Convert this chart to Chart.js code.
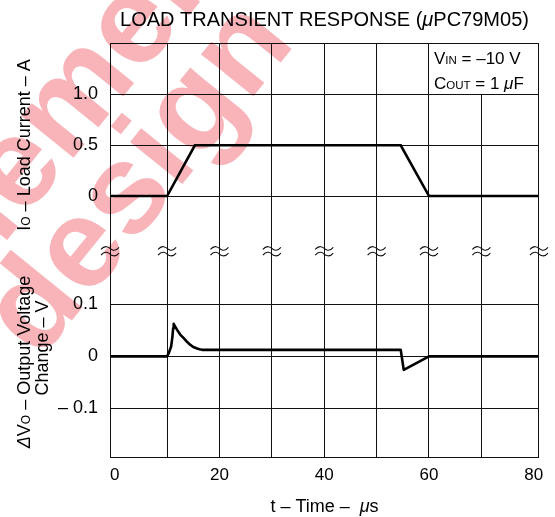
<!DOCTYPE html>
<html>
<head>
<meta charset="utf-8">
<script src="https://cdn.jsdelivr.net/npm/chart.js@4.4.0/dist/chart.umd.min.js"></script>
<style>
  html, body { margin: 0; padding: 0; background: #fff; }
  #wrap { width: 555px; height: 517px; }
</style>
</head>
<body>
<div id="wrap"><canvas id="transientChart"></canvas></div>
<script>
// time axis (µs)
const timeTicks = [0, 10, 20, 30, 40, 50, 60, 70, 80];
const timeLabels = ['0', '', '20', '', '40', '', '60', '', '80'];

// upper panel: load current (A)
const currentTicks = [0, 0.5, 1.0];
const currentLabels = ['0', '0.5', '1.0'];
const currentTime = [-0.9, 10, 15.3, 54.6, 60, 81];
const currentAmps = [0, 0, 0.5, 0.5, 0, 0];

// lower panel: output voltage change (V)
const voltageTicks = [0.1, 0, -0.1];
const voltageLabels = ['0.1', '0', '\u2013 0.1'];
const voltageTime = [-0.9, 10.0, 10.31, 10.77, 11.02, 11.15, 11.26, 11.55, 11.91, 12.5, 13.17, 13.8, 14.45, 15.0, 15.73, 16.2, 16.69, 54.6, 55.18, 60.0, 81];
const voltageVolts = [0, 0, 0.006, 0.019, 0.038, 0.054, 0.0625, 0.057, 0.051, 0.042, 0.035, 0.028, 0.022, 0.018, 0.015, 0.0135, 0.0125, 0.0125, -0.026, 0, 0];

const FONT = "'Liberation Sans', Arial, sans-serif";
const CUR_MIN = -2.579, CUR_MAX = 1.507;
const VOLT_MIN = -0.1958, VOLT_MAX = 0.6035;

function voltToCurrentUnits(v) {
  return CUR_MIN + (v - VOLT_MIN) / (VOLT_MAX - VOLT_MIN) * (CUR_MAX - CUR_MIN);
}

// draw a list of text pieces with their own fonts, centred on x
function drawRuns(ctx, runs, x, y, align) {
  let total = 0;
  runs.forEach(r => { ctx.font = r.font; total += ctx.measureText(r.t).width; });
  let cx = align === 'left' ? x : x - total / 2;
  runs.forEach(r => {
    ctx.font = r.font;
    ctx.fillText(r.t, cx, y + (r.dy || 0));
    cx += ctx.measureText(r.t).width;
  });
}

const decorations = {
  id: 'decorations',
  beforeDraw(chart) {
    const ctx = chart.ctx;
    ctx.save();
    ctx.fillStyle = '#fff';
    ctx.fillRect(0, 0, chart.width, chart.height);
    ctx.restore();
  },
  afterDraw(chart) {
    const ctx = chart.ctx;
    const a = chart.chartArea;
    const xs = chart.scales.x, ys = chart.scales.y;
    const n = '18px ' + FONT, sm = '12px ' + FONT, it = 'italic 18px ' + FONT;

    ctx.save();
    // condition box in the upper right cell
    const bx = xs.getPixelForValue(60), by = ys.getPixelForValue(1.0);
    ctx.fillStyle = '#fff';
    ctx.fillRect(bx + 0.5, a.top, a.right - bx - 0.5, by - a.top - 0.5);
    ctx.fillStyle = '#000';
    ctx.textBaseline = 'alphabetic';
    const ln = '17px ' + FONT, lsm = '11.5px ' + FONT, lit = 'italic 17px ' + FONT;
    drawRuns(ctx, [{t: 'V', font: ln}, {t: 'IN', font: lsm}, {t: ' = \u201310 V', font: ln}], bx + 5, a.top + 21, 'left');
    drawRuns(ctx, [{t: 'C', font: ln}, {t: 'OUT', font: lsm}, {t: ' = 1 ', font: ln}, {t: '\u03bc', font: lit}, {t: 'F', font: ln}], bx + 5, a.top + 46, 'left');

    // frame
    ctx.strokeStyle = '#111';
    ctx.lineWidth = 1;
    ctx.strokeRect(Math.round(a.left) + 0.5, Math.round(a.top) + 0.5, Math.round(a.right - a.left) - 1, Math.round(a.bottom - a.top) - 1);

    // break marks between the two panels
    const midY = (ys.getPixelForValue(0) + ys.getPixelForValue(voltToCurrentUnits(0.1))) / 2 + 1;
    const breakXs = [a.left, a.right];
    timeTicks.forEach(v => { if (v > 0 && v < 80) breakXs.push(xs.getPixelForValue(v)); });
    ctx.lineWidth = 1.1;
    ctx.strokeStyle = '#111';
    breakXs.forEach(x => {
      [-2.8, 2.8].forEach(off => {
        const y = midY + off;
        ctx.beginPath();
        ctx.moveTo(x - 9, y + 1);
        ctx.bezierCurveTo(x - 5, y - 4, x - 1, y - 1, x, y);
        ctx.bezierCurveTo(x + 1, y + 1, x + 5, y + 4, x + 9, y - 1);
        ctx.stroke();
      });
    });

    // title
    ctx.fillStyle = '#000';
    const tn = '20px ' + FONT, ti = 'italic 20px ' + FONT;
    drawRuns(ctx, [{t: 'LOAD TRANSIENT RESPONSE (', font: tn}, {t: '\u03bc', font: ti}, {t: 'PC79M05)', font: tn}], (a.left + a.right) / 2, 26, 'center');

    // x axis title
    drawRuns(ctx, [{t: 't \u2013 Time \u2013  ', font: n}, {t: '\u03bc', font: it}, {t: 's', font: n}], (a.left + a.right) / 2, 512, 'center');

    // y axis titles (rotated)
    ctx.textBaseline = 'alphabetic';
    function vertical(runs, cx, cy) {
      ctx.save();
      ctx.translate(cx, cy);
      ctx.rotate(-Math.PI / 2);
      drawRuns(ctx, runs, 0, 0, 'center');
      ctx.restore();
    }
    vertical([{t: 'I', font: n}, {t: 'O', font: sm}, {t: ' \u2013 Load Current \u2013 A', font: n}], 30, 145);
    vertical([{t: '\u0394', font: it}, {t: 'V', font: n}, {t: 'O', font: sm}, {t: ' \u2013 Output Voltage', font: n}], 30, 362);
    vertical([{t: 'Change \u2013 V', font: n}], 48, 348);

    // pink watermark, multiplied over the drawing
    ctx.globalCompositeOperation = 'multiply';
    ctx.fillStyle = 'rgb(249,180,185)';
    ctx.font = 'bold 127px ' + FONT;
    ctx.textAlign = 'left';
    const ang = -51 * Math.PI / 180;
    ctx.save();
    ctx.translate(39, 361);
    ctx.rotate(ang);
    ctx.fillText('design', 0, 0);
    ctx.restore();
    ctx.save();
    ctx.translate(-43, 302);
    ctx.rotate(ang);
    ctx.fillText('element', 0, 0);
    ctx.restore();
    ctx.restore();
  }
};

document.addEventListener('DOMContentLoaded', function () {
  const ctx = document.getElementById('transientChart').getContext('2d');

  new Chart(ctx, {
    type: 'line',
    data: {
      datasets: [{
        label: 'Load current',
        data: currentTime.map((t, i) => ({x: t, y: currentAmps[i]})),
        yAxisID: 'y',
        borderColor: '#000',
        borderWidth: 2.6,
        pointRadius: 0,
        tension: 0,
        fill: false
      },
      {
        label: 'Output voltage change',
        data: voltageTime.map((t, i) => ({x: t, y: voltageVolts[i]})),
        yAxisID: 'y2',
        borderColor: '#000',
        borderWidth: 2.6,
        borderJoinStyle: 'round',
        pointRadius: 0,
        tension: 0,
        fill: false
      }]
    },
    plugins: [decorations],
    options: {
      responsive: true,
      maintainAspectRatio: false,
      animation: false,
      layout: {
        padding: { top: 43, right: 16, bottom: 0, left: 0 }
      },
      plugins: {
        legend: { display: false },
        tooltip: { enabled: false }
      },
      scales: {
        x: {
          type: 'linear',
          min: -0.9,
          max: 81,
          afterBuildTicks: scale => { scale.ticks = timeTicks.map(v => ({value: v})); },
          afterFit: scale => { scale.height = 59; },
          border: { display: false },
          grid: {
            drawTicks: false,
            lineWidth: 1,
            color: c => (c.tick && (c.tick.value === 0 || c.tick.value === 80)) ? 'rgba(0,0,0,0)' : '#111'
          },
          ticks: {
            autoSkip: false,
            maxRotation: 0,
            padding: 7,
            color: '#000',
            font: { family: FONT, size: 17 },
            callback: (v, i) => timeLabels[i]
          }
        },
        y: {
          type: 'linear',
          position: 'left',
          min: CUR_MIN,
          max: CUR_MAX,
          afterBuildTicks: scale => {
            const t = currentTicks.map((v, i) => ({value: v, text: currentLabels[i]}));
            voltageTicks.forEach((v, i) => t.push({value: voltToCurrentUnits(v), text: voltageLabels[i]}));
            scale.ticks = t;
          },
          afterFit: scale => { scale.width = 110; },
          border: { display: false },
          grid: { drawTicks: false, lineWidth: 1, color: '#111' },
          ticks: {
            padding: 12,
            color: '#000',
            font: { family: FONT, size: 18 },
            callback: function (v, i, ticks) { return ticks[i].text; }
          }
        },
        y2: {
          type: 'linear',
          display: false,
          min: VOLT_MIN,
          max: VOLT_MAX
        }
      }
    }
  });
});
</script>
</body>
</html>
